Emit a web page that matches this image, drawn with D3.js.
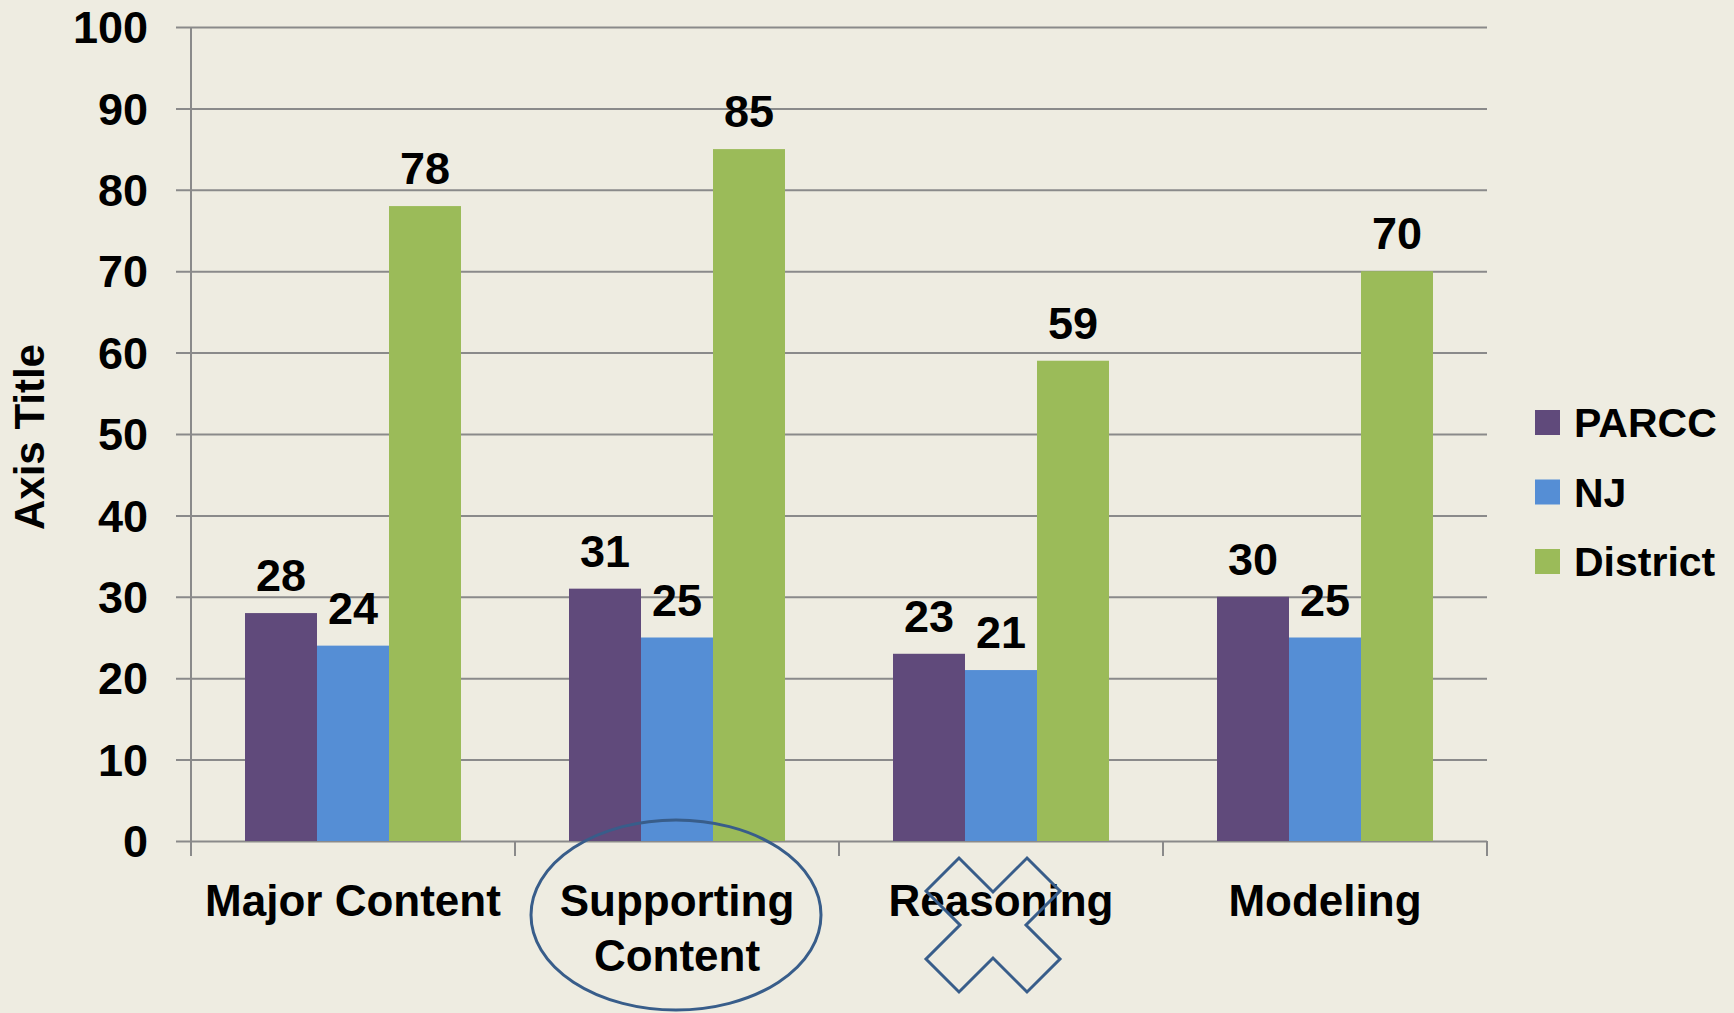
<!DOCTYPE html>
<html>
<head>
<meta charset="utf-8">
<script src="https://cdn.jsdelivr.net/npm/d3@7"></script>
<style>
  body { margin: 0; background: #EEECE1; }
  svg { display: block; }
  text { font-family: "Liberation Sans", Arial, sans-serif; font-weight: bold; fill: #000; }
</style>
</head>
<body>
<div id="chart"></div>
<script>
var categories = ["Major Content", "Supporting Content", "Reasoning", "Modeling"];
var series = ["PARCC", "NJ", "District"];
var parcc = [28, 31, 23, 30];
var nj = [24, 25, 21, 25];
var district = [78, 85, 59, 70];
var yTicks = [0, 10, 20, 30, 40, 50, 60, 70, 80, 90, 100];
var colors = ["#604A7B", "#558ED5", "#9BBB59"];

var width = 1734;
var height = 1013;
var margin = {top: 27, right: 247, bottom: 172, left: 191};

var values = [parcc, nj, district];
var data = categories.map(function(c, i) {
	return {cat: c, vals: series.map(function(s, j) { return {key: s, value: values[j][i], idx: j}; })};
});

var svg = d3.select("#chart")
	.append("svg")
		.attr("width", width)
		.attr("height", height);

svg.append("rect")
	.attr("width", width)
	.attr("height", height)
	.attr("fill", "#EEECE1");

var x0 = d3.scaleBand()
	.domain(categories)
	.range([margin.left, width - margin.right]);

var x1 = d3.scaleBand()
	.domain(series)
	.range([0, x0.bandwidth()])
	.paddingOuter(0.75)
	.paddingInner(0);

var y = d3.scaleLinear()
	.domain([0, 100])
	.range([height - margin.bottom, margin.top]);

// gridlines + y labels
var yAxis = svg.append("g")
	.attr("transform", "translate(" + margin.left + ",0)")
	.call(d3.axisLeft(y).tickValues(yTicks).tickSize(-(width - margin.right - margin.left)).tickSizeOuter(0).tickPadding(43));

yAxis.select(".domain").remove();
yAxis.selectAll(".tick line")
	.attr("x1", -15)
	.attr("stroke", "#8A8A8A")
	.attr("stroke-width", 2);
yAxis.selectAll(".tick text")
	.style("font-size", "45px")
	.style("font-family", "'Liberation Sans', Arial, sans-serif")
	.style("font-weight", "bold")
	.attr("fill", "#000")
	.attr("dy", "0.35em");

// vertical axis line
svg.append("line")
	.attr("x1", margin.left).attr("x2", margin.left)
	.attr("y1", y(100)).attr("y2", y(0) + 15)
	.attr("stroke", "#8A8A8A")
	.attr("stroke-width", 2);

// category tick marks
var bounds = categories.map(function(c) { return x0(c) + x0.bandwidth(); });
svg.selectAll(".cattick")
	.data(bounds)
	.enter()
		.append("line")
			.attr("x1", function(d) { return d; })
			.attr("x2", function(d) { return d; })
			.attr("y1", y(0))
			.attr("y2", y(0) + 15)
			.attr("stroke", "#8A8A8A")
			.attr("stroke-width", 2);

// bars
var groups = svg.selectAll(".grp")
	.data(data)
	.enter()
		.append("g")
			.attr("transform", function(d) { return "translate(" + x0(d.cat) + ",0)"; });

groups.selectAll("rect")
	.data(function(d) { return d.vals; })
	.enter()
		.append("rect")
			.attr("x", function(d) { return x1(d.key); })
			.attr("width", x1.bandwidth())
			.attr("y", function(d) { return y(d.value); })
			.attr("height", function(d) { return y(0) - y(d.value); })
			.attr("fill", function(d) { return colors[d.idx]; });

groups.selectAll(".lbl")
	.data(function(d) { return d.vals; })
	.enter()
		.append("text")
			.attr("x", function(d) { return x1(d.key) + x1.bandwidth() / 2; })
			.attr("y", function(d) { return y(d.value) - 22; })
			.attr("text-anchor", "middle")
			.style("font-size", "45px")
			.text(function(d) { return d.value; });

// category labels
var catLabels = svg.selectAll(".cat")
	.data(categories)
	.enter()
		.append("text")
			.attr("x", function(d) { return x0(d) + x0.bandwidth() / 2; })
			.attr("y", y(0) + 75)
			.attr("text-anchor", "middle")
			.style("font-size", "44px");

catLabels.each(function(d) {
	var t = d3.select(this);
	var words = d === "Supporting Content" ? ["Supporting", "Content"] : [d];
	words.forEach(function(w, i) {
		t.append("tspan")
			.attr("x", x0(d) + x0.bandwidth() / 2)
			.attr("dy", i === 0 ? 0 : 55)
			.text(w);
	});
});

// axis title
svg.append("text")
	.attr("transform", "translate(44," + (y(50) + 3) + ") rotate(-90)")
	.attr("text-anchor", "middle")
	.style("font-size", "42px")
	.text("Axis Title");

// legend
var legend = svg.selectAll(".leg")
	.data(series)
	.enter()
		.append("g")
			.attr("transform", function(d, i) { return "translate(1535," + (410 + i * 69.5) + ")"; });

legend.append("rect")
	.attr("width", 25)
	.attr("height", 25)
	.attr("fill", function(d, i) { return colors[i]; });

legend.append("text")
	.attr("x", 39)
	.attr("y", 27)
	.style("font-size", "41px")
	.text(function(d) { return d; });

// annotations: circle around Supporting Content, cross over Reasoning
svg.append("ellipse")
	.attr("cx", x0("Supporting Content") + x0.bandwidth() / 2 - 1)
	.attr("cy", y(0) + 74)
	.attr("rx", 145)
	.attr("ry", 95)
	.attr("fill", "none")
	.attr("stroke", "#385D8A")
	.attr("stroke-width", 3);

var crossPts = [[-67,-34],[-34,-67],[0,-33],[34,-67],[67,-34],[33,0],[67,34],[34,67],[0,33],[-34,67],[-67,34],[-33,0]];
svg.append("polygon")
	.attr("transform", "translate(" + (x0("Reasoning") + x0.bandwidth() / 2 - 8) + "," + (y(0) + 84) + ")")
	.attr("points", crossPts.map(function(p) { return p.join(","); }).join(" "))
	.attr("fill", "none")
	.attr("stroke", "#385D8A")
	.attr("stroke-width", 3);
</script>
</body>
</html>
